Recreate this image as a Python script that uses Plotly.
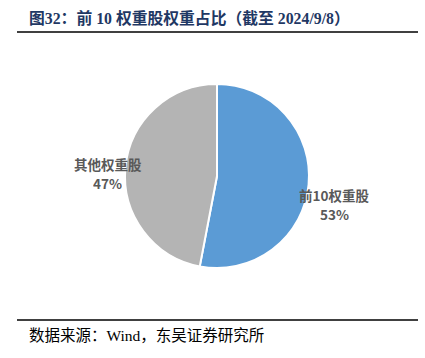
import plotly.graph_objects as go

labels = ["前10权重股", "其他权重股"]
values = [53, 47]
colors = ["#5B9BD5", "#B4B4B4"]
label_pos = [(334, 204), (108, 173)]  # pixel centers of outside labels

W, H = 425, 358
cx, cy, r = 217, 176, 92

fig = go.Figure()
fig.add_trace(go.Pie(
    labels=labels, values=values, sort=False, direction="clockwise", rotation=0,
    marker=dict(colors=colors, line=dict(color="white", width=2)),
    textinfo="none", hoverinfo="label+percent", showlegend=False,
    domain=dict(x=[(cx - r) / W, (cx + r) / W], y=[1 - (cy + r) / H, 1 - (cy - r) / H]),
))

total = sum(values)
lab_font = dict(family="Noto Sans CJK SC, Liberation Sans", size=13.5, color="#595959")
for lab, v, (px, py) in zip(labels, values, label_pos):
    for txt, dy in ((lab, -9.5), (f"{round(v / total * 100)}%", 9.5)):
        fig.add_annotation(
            x=px / W, y=1 - (py + dy) / H, xref="paper", yref="paper", showarrow=False,
            text=f"<b>{txt}</b>", font=lab_font, height=18,
            align="center", xanchor="center", yanchor="middle",
        )

fig.add_annotation(
    x=27 / W, y=1 - 18 / H, xref="paper", yref="paper", showarrow=False,
    text="<b>图32：前 10 权重股权重占比（截至 2024/9/8）</b>",
    font=dict(family="Liberation Serif, Noto Sans CJK SC", size=15.8, color="#1F3864"),
    xanchor="left", yanchor="middle",
)
fig.add_annotation(
    x=27 / W, y=1 - 335 / H, xref="paper", yref="paper", showarrow=False,
    text="数据来源：Wind，东吴证券研究所",
    font=dict(family="Liberation Serif, Noto Sans CJK SC", size=15.5, color="#000000"),
    xanchor="left", yanchor="middle",
)
for yy in (32, 320):
    fig.add_shape(type="line", xref="paper", yref="paper",
                  x0=17 / W, x1=418 / W, y0=1 - yy / H, y1=1 - yy / H,
                  line=dict(color="#000000", width=1.5))

fig.update_layout(width=W, height=H, margin=dict(l=0, r=0, t=0, b=0),
                  paper_bgcolor="white", plot_bgcolor="white")
fig.write_html("out.html")
